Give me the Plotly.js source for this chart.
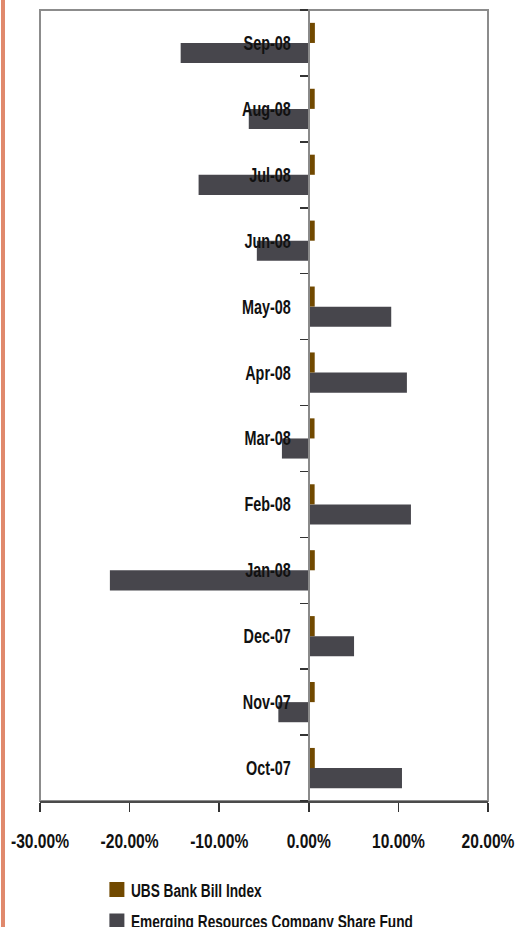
<!DOCTYPE html>
<html>
<head>
<meta charset="utf-8">
<script src="https://cdn.plot.ly/plotly-3.0.1.min.js"></script>
<style>
html,body{margin:0;padding:0;background:#fff;}
#chart{width:517px;height:927px;}
</style>
</head>
<body>
<div id="chart"></div>
<script>
const months = ["Oct-07","Nov-07","Dec-07","Jan-08","Feb-08","Mar-08","Apr-08","May-08","Jun-08","Jul-08","Aug-08","Sep-08"];
const ubsBankBill = [0.0067,0.0066,0.0066,0.0067,0.0065,0.0064,0.0066,0.0066,0.0066,0.0067,0.0066,0.0068];
const emergingFund = [0.104,-0.034,0.0505,-0.222,0.114,-0.030,0.1095,0.092,-0.058,-0.123,-0.067,-0.143];
const xTickVals = [-0.3,-0.2,-0.1,0,0.1,0.2];
const xTickLabels = ["-30.00%","-20.00%","-10.00%","0.00%","10.00%","20.00%"];

const FONT = "Liberation Sans, Arial, sans-serif";

const traces = [
  {
    type:'bar', orientation:'h', name:'Emerging Resources Company Share Fund',
    y: months, x: emergingFund, marker:{color:'#47464c'}, legendgroup:'b', legendrank:2, hoverinfo:'skip'
  },
  {
    type:'bar', orientation:'h', name:'UBS Bank Bill Index',
    y: months, x: ubsBankBill, marker:{color:'#714900'}, legendgroup:'a', legendrank:1, hoverinfo:'skip'
  }
];

const layout = {
  width:517, height:927,
  margin:{l:40, r:29, t:10, b:126, autoexpand:false},
  paper_bgcolor:'#fff', plot_bgcolor:'#fff',
  barmode:'group', bargap:0.39, bargroupgap:0,
  font:{family:FONT, color:'#111'},
  showlegend:true,
  legend:{
    x:0.127, xanchor:'left', y:-0.089, yanchor:'top',
    traceorder:'grouped', tracegroupgap:5,
    font:{family:FONT, size:18, color:'#111', weight:'bold'},
    bgcolor:'rgba(0,0,0,0)'
  },
  xaxis:{
    range:[-0.3,0.2], tickvals:xTickVals, ticktext:xTickLabels,
    showgrid:false, zeroline:false,
    showline:true, linecolor:'#4a4a4a', linewidth:1.5,
    ticks:'outside', ticklen:9, tickcolor:'#333', tickwidth:1.5,
    tickfont:{family:FONT, size:20, color:'#111', weight:'bold'},
    ticklabelstandoff:12, ticklabeloverflow:'allow', fixedrange:true
  },
  yaxis:{
    type:'category', anchor:'free', position:0.6,
    showgrid:false, zeroline:false,
    showline:true, linecolor:'#8a8a8a', linewidth:2,
    ticks:'outside', tickson:'boundaries', ticklen:8, tickcolor:'#333', tickwidth:1.5,
    tickfont:{family:FONT, size:20, color:'#111', weight:'bold'},
    ticklabelstandoff:13, ticklabeloverflow:'allow', fixedrange:true
  },
  shapes:[
    {type:'rect', xref:'paper', yref:'paper', x0:0, x1:1, y0:0, y1:1,
     line:{color:'#8c8c8c', width:2}, layer:'below'},
    {type:'line', xref:'paper', yref:'paper', x0:-0.0826, x1:-0.0826, y0:-0.2, y1:1.02,
     line:{color:'#e0896c', width:4}}
  ]
};

function compress(sel, f){
  document.querySelectorAll('#chart ' + sel).forEach(function(t){
    const w = t.getComputedTextLength();
    t.setAttribute('textLength', (w * f).toFixed(1));
    t.setAttribute('lengthAdjust', 'spacingAndGlyphs');
  });
}

Plotly.newPlot('chart', traces, layout, {displayModeBar:false, staticPlot:true}).then(function(){
  compress('.ytick text', 0.72);
  compress('.xtick text', 0.78);
  compress('.legendtext', 0.76);
  document.querySelectorAll('#chart .legendtext').forEach(function(t){ t.setAttribute('x', '34'); });
  document.querySelectorAll('#chart .legendpoints path').forEach(function(p){
    p.setAttribute('d', 'M7.5,7.5H-7.5V-7.5H7.5Z');
  });
});
</script>
</body>
</html>
